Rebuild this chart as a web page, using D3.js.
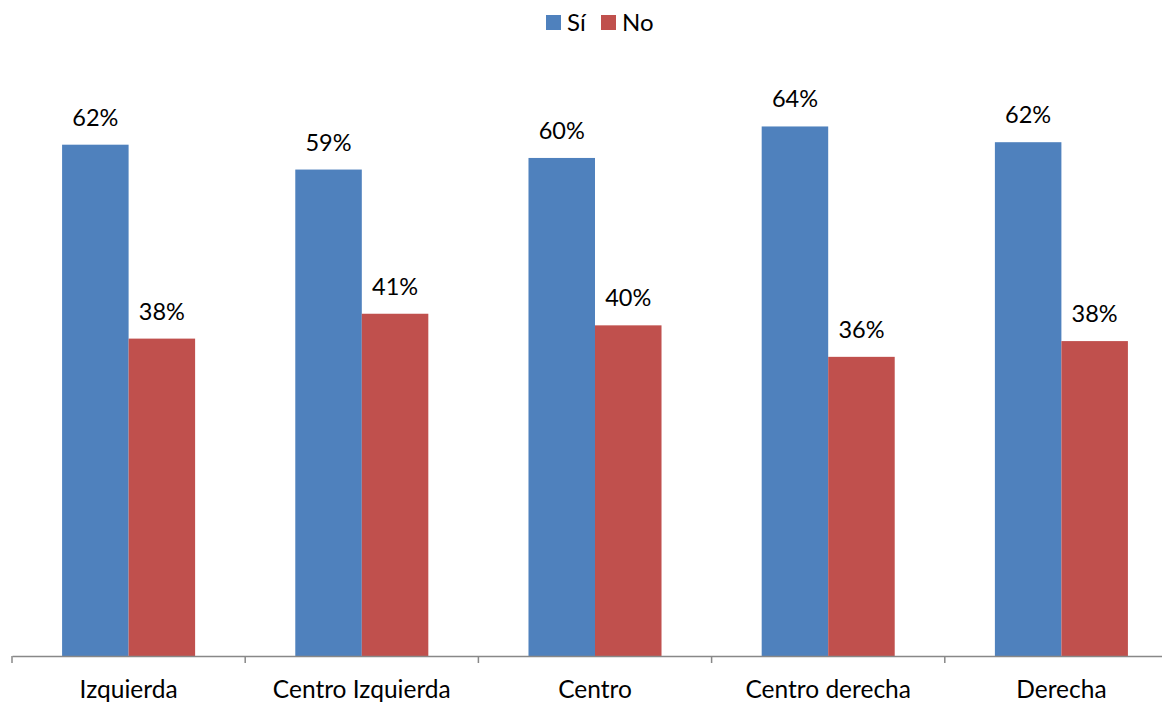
<!DOCTYPE html>
<html>
<head>
<meta charset="utf-8">
<script src="https://cdn.jsdelivr.net/npm/d3@7"></script>
<style>
  html, body { margin: 0; padding: 0; background: #fff; }
  svg { display: block; font-family: Lato, "Open Sans", sans-serif; }
</style>
</head>
<body>
<svg id="chart" width="1162" height="703"></svg>
<script>
const categories = ["Izquierda", "Centro Izquierda", "Centro", "Centro derecha", "Derecha"];
const seriesNames = ["Sí", "No"];
const siValues = [61.7, 58.7, 60.1, 63.9, 62.0];
const noValues = [38.3, 41.3, 39.9, 36.1, 38.0];
const siLabels = ["62%", "59%", "60%", "64%", "62%"];
const noLabels = ["38%", "41%", "40%", "36%", "38%"];
const colors = ["#4F81BD", "#C0504D"];

const svg = d3.select("#chart");
const baseY = 656;

const x0 = d3.scaleBand().domain(categories).range([12, 1178]).paddingInner(0).paddingOuter(0);
const x1 = d3.scaleBand().domain(seriesNames).range([0, x0.bandwidth()]).paddingInner(0).paddingOuter(0.753);
const y = d3.scaleLinear().domain([0, 70]).range([baseY, baseY - 8.287 * 70]);

const data = categories.map((c, i) => ({
  cat: c,
  vals: [
    { s: "Sí", v: siValues[i], label: siLabels[i] },
    { s: "No", v: noValues[i], label: noLabels[i] }
  ]
}));

const groups = svg.selectAll("g.cat").data(data).join("g")
  .attr("class", "cat")
  .attr("transform", d => `translate(${x0(d.cat)},0)`);

groups.selectAll("rect").data(d => d.vals).join("rect")
  .attr("x", d => x1(d.s))
  .attr("y", d => y(d.v))
  .attr("width", x1.bandwidth())
  .attr("height", d => baseY - y(d.v))
  .attr("fill", (d, i) => colors[i]);

groups.selectAll("text.lbl").data(d => d.vals).join("text")
  .attr("class", "lbl")
  .attr("x", d => x1(d.s) + x1.bandwidth() / 2)
  .attr("y", d => y(d.v) - 19)
  .attr("text-anchor", "middle")
  .attr("font-size", 23.5)
  .attr("fill", "#000")
  .text(d => d.label);

// x axis
const axis = d3.axisBottom(x0).tickSize(0).tickSizeOuter(0).tickFormat(d => d);
const axG = svg.append("g").attr("transform", `translate(0,${baseY})`).call(axis);
axG.select(".domain").attr("stroke", "#888").attr("stroke-width", 1.5);
axG.selectAll(".tick text")
  .attr("font-family", "Lato, 'Open Sans', sans-serif")
  .attr("font-size", 24.5)
  .attr("fill", "#000")
  .attr("dy", 0)
  .attr("y", 42);

// tick marks at band boundaries
const boundaries = categories.map(c => x0(c)).concat([x0.range()[1]]);
svg.append("g").selectAll("line").data(boundaries).join("line")
  .attr("x1", d => d).attr("x2", d => d)
  .attr("y1", baseY).attr("y2", baseY + 7)
  .attr("stroke", "#888").attr("stroke-width", 1.5);

// legend
const legend = svg.append("g");
const legendItems = [
  { name: seriesNames[0], x: 546 },
  { name: seriesNames[1], x: 601 }
];
legendItems.forEach((it, i) => {
  legend.append("rect").attr("x", it.x).attr("y", 15).attr("width", 15).attr("height", 15).attr("fill", colors[i]);
  legend.append("text").attr("x", it.x + 21).attr("y", 31)
    .attr("font-size", 24).attr("fill", "#000").text(it.name);
});
</script>
</body>
</html>
